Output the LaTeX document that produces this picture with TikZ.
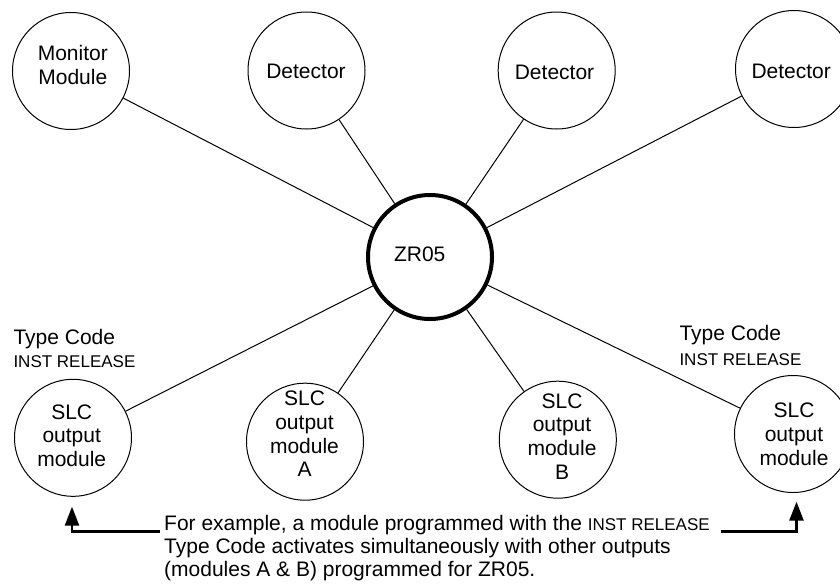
\documentclass[tikz,border=0pt]{standalone}
\usepackage{fontspec}
\setmainfont{Liberation Sans}
\usetikzlibrary{arrows.meta}
\begin{document}
\begin{tikzpicture}[x=1pt,y=-1pt,
  dev/.style={circle,draw,line width=1pt,minimum size=117pt,inner sep=0pt},
  hub/.style={circle,draw,line width=4pt,minimum size=124pt,inner sep=0pt},
  lbl/.style={font=\fontsize{21}{23.6}\selectfont,align=center,anchor=base,inner sep=0pt},
  side/.style={font=\fontsize{21}{23.6}\selectfont,anchor=base west,inner sep=0pt},
  sidesmall/.style={font=\fontsize{17}{20}\selectfont,anchor=base west,inner sep=0pt},
  conn/.style={line width=1pt},
  lead/.style={line width=2.7pt,-{Triangle[length=19pt,width=14pt]}}]
\clip (0,0) rectangle (840,584);
\fill[white] (0,0) rectangle (840,584);

% circles
\node[dev] (mon)  at (71,71) {};
\node[dev] (det1) at (306.5,70.5) {};
\node[dev] (det2) at (556.7,70.5) {};
\node[dev] (det3) at (794,69) {};
\node[dev] (slc1) at (73,437.8) {};
\node[dev] (slca) at (305,441.7) {};
\node[dev] (slcb) at (557.8,439.7) {};
\node[dev] (slc2) at (793,434) {};
\node[hub] (zr)   at (430,257) {};

% connectors
\foreach \n in {mon,det1,det2,det3,slc1,slca,slcb,slc2}
  \draw[conn] (zr) -- (\n);

% circle texts (anchor = baseline of last line)
\node[lbl] (tmon)  at (72.8,84) {Monitor\\Module};
\node[lbl] (tdet1) at (306,78.5) {Detector};
\node[lbl] (tdet2) at (554.5,79.5) {Detector};
\node[lbl] (tdet3) at (791.2,78.5) {Detector};
\node[lbl] (tzr)   at (419.7,261.7) {ZR05};
\node[lbl] (tslc1) at (71.7,466.3) {SLC\\output\\module};
\node[lbl] (tslca) at (304.5,476.7) {SLC\\output\\module\\A};
\node[lbl] (tslcb) at (562,479) {SLC\\output\\module\\B};
\node[lbl] (tslc2) at (794,465) {SLC\\output\\module};

% type code labels
\node[side] (tc1) at (13.3,344.3) {Type Code};
\node[sidesmall] (ir1) at (13.3,367.7) {INST RELEASE};
\node[side] (tc2) at (679.3,340.7) {Type Code};
\node[sidesmall] (ir2) at (679.3,365) {INST RELEASE};

% note
\node[font=\fontsize{21}{22.7}\selectfont,align=left,anchor=base west,inner sep=0pt] (note) at (164,576)
  {For example, a module programmed with the {\fontsize{17}{22.7}\selectfont INST RELEASE}\\
   Type Code activates simultaneously with other outputs\\
   (modules A \& B) programmed for ZR05.};

% leaders
\coordinate (l1) at (160,531.5);
\coordinate (a1) at (72,506.7);
\coordinate (l2) at (720.7,531.7);
\coordinate (a2) at (796.5,501.7);
\draw[lead] (l1) -| (a1);
\draw[lead] (l2) -| (a2);
\end{tikzpicture}
\end{document}
